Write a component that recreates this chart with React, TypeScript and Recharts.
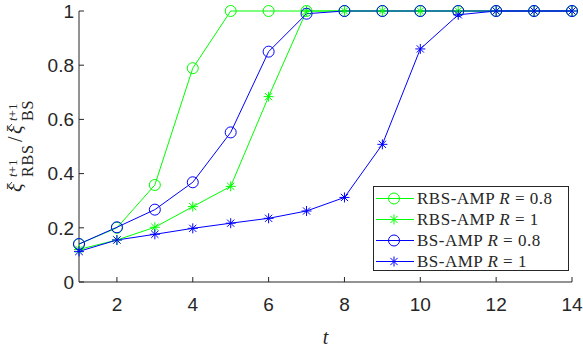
import React from "react";
import { LineChart, Line, XAxis, YAxis, Legend } from "recharts";

const tValues = [1, 2, 3, 4, 5, 6, 7, 8, 9, 10, 11, 12, 13, 14];
const rbs08 = [0.14, 0.2, 0.358, 0.789, 1, 1, 1, 1, 1, 1, 1, 1, 1, 1];
const rbs1 = [0.12, 0.155, 0.202, 0.278, 0.353, 0.684, 1, 1, 1, 1, 1, 1, 1, 1];
const bs08 = [0.14, 0.202, 0.267, 0.368, 0.552, 0.85, 0.99, 1, 1, 1, 1, 1, 1, 1];
const bs1 = [0.113, 0.155, 0.176, 0.198, 0.217, 0.235, 0.262, 0.312, 0.508, 0.86, 0.986, 1, 1, 1];
const xTicks = [2, 4, 6, 8, 10, 12, 14];
const yTicks = [0, 0.2, 0.4, 0.6, 0.8, 1];

const GREEN = "#00ff00";
const BLUE = "#0000ff";
const AXIS = "#262626";

const data = tValues.map((t, i) => ({
  t,
  rbs08: rbs08[i],
  rbs1: rbs1[i],
  bs08: bs08[i],
  bs1: bs1[i],
}));

const series = [
  { key: "rbs08", name: "RBS-AMP", r: "0.8", color: GREEN, marker: "circle" },
  { key: "rbs1", name: "RBS-AMP", r: "1", color: GREEN, marker: "star" },
  { key: "bs08", name: "BS-AMP", r: "0.8", color: BLUE, marker: "circle" },
  { key: "bs1", name: "BS-AMP", r: "1", color: BLUE, marker: "star" },
];

function Marker({ cx, cy, color, marker }: any) {
  if (marker === "circle") {
    return <circle cx={cx} cy={cy} r={5.5} fill="none" stroke={color} strokeWidth={1} />;
  }
  const s = 5;
  const d = 3.6;
  return (
    <g stroke={color} strokeWidth={1}>
      <line x1={cx - s} y1={cy} x2={cx + s} y2={cy} />
      <line x1={cx} y1={cy - s} x2={cx} y2={cy + s} />
      <line x1={cx - d} y1={cy - d} x2={cx + d} y2={cy + d} />
      <line x1={cx - d} y1={cy + d} x2={cx + d} y2={cy - d} />
    </g>
  );
}

const serif = "'Times New Roman', 'Liberation Serif', 'DejaVu Serif', serif";

function renderLegend() {
  return (
    <div
      style={{
        border: `1px solid ${AXIS}`,
        background: "#fff",
        width: 196,
        height: 85,
        boxSizing: "border-box",
        paddingTop: 1,
      }}
    >
      {series.map((s) => (
        <div key={s.key} style={{ display: "flex", alignItems: "center", height: 21 }}>
          <svg width={42} height={21} style={{ flex: "none" }}>
            <line x1={2} y1={10.5} x2={40} y2={10.5} stroke={s.color} strokeWidth={1} />
            <Marker cx={20} cy={10.5} color={s.color} marker={s.marker} />
          </svg>
          <span
            style={{
              fontFamily: serif,
              fontSize: 17,
              letterSpacing: 0.5,
              color: AXIS,
              whiteSpace: "nowrap",
              marginLeft: 1,
            }}
          >
            {s.name} <i>R</i> = {s.r}
          </span>
        </div>
      ))}
    </div>
  );
}

function YLabel() {
  // rotated math label: xi-hat^{t+1}_{RBS} / xi-hat^{t+1}_{BS}
  return (
    <g transform="translate(22,192) rotate(-90)" fill={AXIS} fontFamily={serif}>
      <text x={0} y={0} fontSize={20} fontStyle="italic">ξ</text>
      <path d="M2,-10 L6,-13.5 L10,-10" fill="none" stroke={AXIS} strokeWidth={0.9} />
      <text x={15} y={-5} fontSize={13}>
        <tspan fontStyle="italic">t</tspan>+1
      </text>
      <text x={15} y={11} fontSize={16} letterSpacing={0.8}>RBS</text>
      <text x={50} y={0} fontSize={20}>/</text>
      <text x={58} y={0} fontSize={20} fontStyle="italic">ξ</text>
      <path d="M60,-10 L64,-13.5 L68,-10" fill="none" stroke={AXIS} strokeWidth={0.9} />
      <text x={71} y={-5} fontSize={13}>
        <tspan fontStyle="italic">t</tspan>+1
      </text>
      <text x={71} y={11} fontSize={16} letterSpacing={0.8}>BS</text>
    </g>
  );
}

const tickStyle = { fill: AXIS, fontSize: 19, fontFamily: "'Liberation Sans', Arial, sans-serif" };

export default function App() {
  return (
    <div style={{ position: "absolute", left: 0, top: 0, width: 583, height: 348, background: "#fff" }}>
      <LineChart width={583} height={348} data={data} margin={{ top: 11, right: 11, left: 0, bottom: 0 }}>
        <XAxis
          dataKey="t"
          type="number"
          domain={[1, 14]}
          ticks={xTicks}
          allowDecimals={false}
          height={66}
          stroke={AXIS}
          tickSize={-5}
          tickMargin={21}
          tick={tickStyle}
          label={({ viewBox }: any) => (
            <text
              x={viewBox.x + viewBox.width / 2}
              y={344}
              textAnchor="middle"
              fontFamily={serif}
              fontStyle="italic"
              fontSize={20}
              fill={AXIS}
            >
              t
            </text>
          )}
        />
        <XAxis
          xAxisId="top"
          orientation="top"
          dataKey="t"
          type="number"
          domain={[1, 14]}
          ticks={xTicks}
          height={0}
          stroke={AXIS}
          tickSize={-5}
          tick={() => null}
        />
        <YAxis
          type="number"
          domain={[0, 1]}
          ticks={yTicks}
          width={79}
          stroke={AXIS}
          tickSize={-5}
          tickMargin={10}
          tick={tickStyle}
          label={() => <YLabel />}
        />
        <YAxis
          yAxisId="right"
          orientation="right"
          type="number"
          domain={[0, 1]}
          ticks={yTicks}
          width={0}
          stroke={AXIS}
          tickSize={-5}
          tick={() => null}
        />
        <Legend
          layout="vertical"
          align="center"
          verticalAlign="middle"
          content={renderLegend}
          wrapperStyle={{ left: 373, top: 186, width: 196, height: 85 }}
        />
        {series.map((s) => (
          <Line
            key={s.key}
            dataKey={s.key}
            name={s.name}
            stroke={s.color}
            strokeWidth={1}
            isAnimationActive={false}
            dot={(p: any) => <Marker key={`${s.key}-${p.index}`} cx={p.cx} cy={p.cy} color={s.color} marker={s.marker} />}
            activeDot={false}
          />
        ))}
      </LineChart>
    </div>
  );
}
